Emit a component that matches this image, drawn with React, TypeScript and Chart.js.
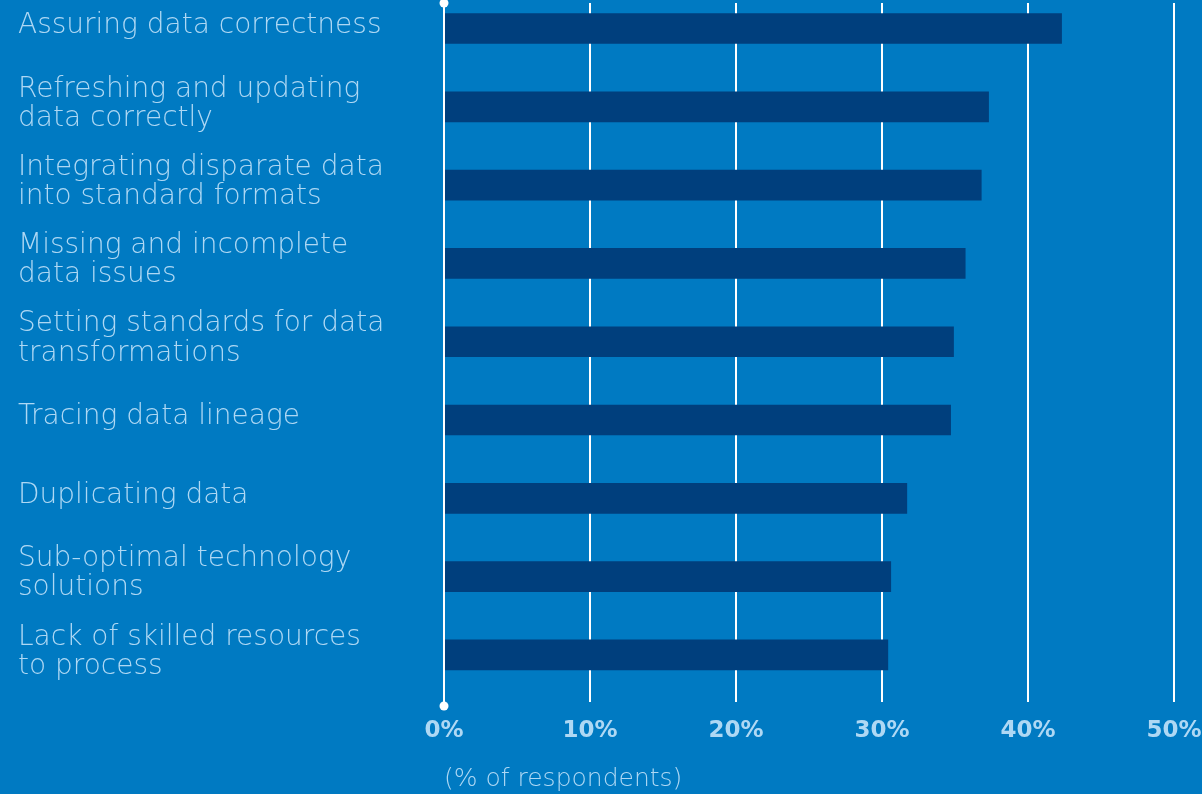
import React, { useEffect, useRef } from "react";
import { Chart, registerables } from "chart.js";

Chart.register(...registerables);

const categories: (string | string[])[] = [
  "Assuring data correctness",
  ["Refreshing and updating", "data correctly"],
  ["Integrating disparate data", "into standard formats"],
  ["Missing and incomplete", "data issues"],
  ["Setting standards for data", "transformations"],
  "Tracing data lineage",
  "Duplicating data",
  ["Sub-optimal technology", "solutions"],
  ["Lack of skilled resources", "to process"],
];

const values: number[] = [42.3, 37.3, 36.8, 35.7, 34.9, 34.7, 31.7, 30.6, 30.4];

const xTicks: number[] = [0, 10, 20, 30, 40, 50];

const BG = "#007AC2";
const BAR = "#003F7D";
const TEXT = "#AED8F4";
const FONT = "'DejaVu Sans', sans-serif";

const dotsPlugin = {
  id: "axisDots",
  afterDraw(chart: any) {
    const { ctx, chartArea, scales } = chart;
    const x = scales.x.getPixelForValue(0);
    ctx.save();
    ctx.strokeStyle = "#FFFFFF";
    ctx.lineWidth = 2;
    ctx.beginPath();
    ctx.moveTo(x, chartArea.top);
    ctx.lineTo(x, chartArea.bottom + 4);
    ctx.stroke();
    ctx.fillStyle = "#FFFFFF";
    for (const y of [chartArea.top, chartArea.bottom + 4]) {
      ctx.beginPath();
      ctx.arc(x, y, 4.5, 0, Math.PI * 2);
      ctx.fill();
    }
    ctx.restore();
  },
};

export default function App() {
  const ref = useRef<HTMLCanvasElement>(null);

  useEffect(() => {
    if (!ref.current) return;
    const chart = new Chart(ref.current, {
      type: "bar",
      data: {
        datasets: [
          {
            data: values.map((v, i) => ({ x: v, y: i })),
            backgroundColor: BAR,
            borderWidth: 0,
            barThickness: 30,
          },
        ],
      },
      options: {
        indexAxis: "y",
        animation: false,
        responsive: false,
        maintainAspectRatio: false,
        layout: { padding: { left: 18, right: 28, top: 3, bottom: 0 } },
        plugins: { legend: { display: false }, tooltip: { enabled: false } },
        scales: {
          x: {
            type: "linear",
            position: "bottom",
            min: 0,
            max: 50,
            afterBuildTicks: (scale: any) => {
              scale.ticks = xTicks.map((v) => ({ value: v }));
            },
            afterFit: (scale: any) => {
              scale.height = 92;
              scale.paddingLeft = 0;
              scale.paddingRight = 0;
            },
            grid: {
              color: "#FFFFFF",
              lineWidth: 2,
              drawTicks: false,
            },
            border: { display: false },
            ticks: {
              color: TEXT,
              font: { family: FONT, size: 23, weight: "bold" },
              padding: 15,
              maxRotation: 0,
              callback: (v: any) => v + "%",
            },
            title: {
              display: true,
              text: "(% of respondents)",
              align: "start",
              color: TEXT,
              font: { family: FONT, size: 25, weight: "200" },
              padding: { top: 10, bottom: 0 },
            },
          },
          y: {
            type: "linear",
            reverse: true,
            offset: false,
            min: -0.326,
            max: 8.601,
            afterBuildTicks: (scale: any) => {
              scale.ticks = categories.map((_, i) => ({ value: i }));
            },
            afterFit: (scale: any) => {
              scale.width = 426;
              scale.paddingTop = 0;
              scale.paddingBottom = 0;
            },
            grid: { display: false },
            border: { display: false },
            ticks: {
              color: TEXT,
              crossAlign: "far",
              autoSkip: false,
              labelOffset: -3,
              font: { family: FONT, size: 28, weight: "200", lineHeight: 1.04 },
              callback: (v: any) => categories[Number(v)] as any,
            },
          },
        },
      },
      plugins: [dotsPlugin],
    } as any);
    return () => chart.destroy();
  }, []);

  return (
    <div
      style={{
        position: "absolute",
        left: 0,
        top: 0,
        width: 1202,
        height: 794,
        background: BG,
      }}
    >
      <canvas ref={ref} width={1202} height={794} style={{ display: "block" }} />
    </div>
  );
}
